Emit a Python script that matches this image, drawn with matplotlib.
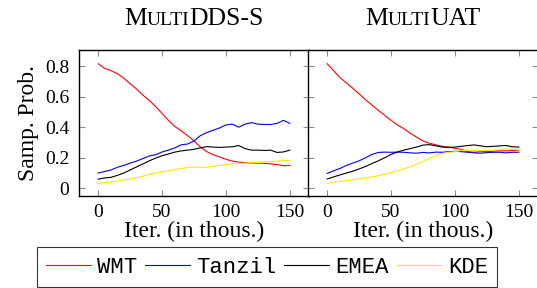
import numpy as np
import matplotlib
matplotlib.use("Agg")
import matplotlib.pyplot as plt
from matplotlib.lines import Line2D

# ---------------- data ----------------
iters = list(range(0, 155, 5))  # thousands of iterations
series_names = ["WMT", "Tanzil", "EMEA", "KDE"]
series_colors = ["#ff0000", "#0000ff", "#000000", "#ffe600"]

dds_wmt = [0.815, 0.785, 0.77, 0.75, 0.72, 0.685, 0.65, 0.61, 0.575, 0.535, 0.49,
           0.445, 0.405, 0.375, 0.345, 0.31, 0.27, 0.24, 0.22, 0.205, 0.19, 0.178,
           0.172, 0.168, 0.166, 0.165, 0.164, 0.16, 0.156, 0.148, 0.15]
dds_tanzil = [0.10, 0.11, 0.12, 0.138, 0.15, 0.165, 0.178, 0.195, 0.212, 0.22, 0.238,
              0.25, 0.265, 0.285, 0.29, 0.31, 0.345, 0.365, 0.38, 0.395, 0.415, 0.42,
              0.40, 0.42, 0.43, 0.42, 0.418, 0.418, 0.425, 0.445, 0.425]
dds_emea = [0.06, 0.068, 0.072, 0.085, 0.10, 0.12, 0.14, 0.16, 0.18, 0.198, 0.213,
            0.225, 0.237, 0.245, 0.25, 0.255, 0.265, 0.273, 0.27, 0.268, 0.27, 0.272,
            0.28, 0.26, 0.25, 0.25, 0.248, 0.25, 0.235, 0.238, 0.25]
dds_kde = [0.033, 0.037, 0.042, 0.048, 0.055, 0.062, 0.07, 0.08, 0.092, 0.10, 0.108,
           0.115, 0.122, 0.13, 0.137, 0.14, 0.136, 0.138, 0.145, 0.15, 0.155, 0.16,
           0.163, 0.165, 0.168, 0.17, 0.172, 0.175, 0.178, 0.185, 0.18]

uat_wmt = [0.815, 0.77, 0.725, 0.69, 0.655, 0.618, 0.58, 0.545, 0.51, 0.478, 0.445,
           0.415, 0.39, 0.36, 0.335, 0.31, 0.295, 0.285, 0.275, 0.27, 0.262, 0.255,
           0.24, 0.236, 0.24, 0.24, 0.243, 0.245, 0.245, 0.247, 0.247]
uat_tanzil = [0.098, 0.115, 0.13, 0.15, 0.165, 0.18, 0.20, 0.222, 0.235, 0.237, 0.236,
              0.237, 0.236, 0.232, 0.23, 0.235, 0.232, 0.237, 0.236, 0.24, 0.242, 0.24,
              0.236, 0.232, 0.23, 0.234, 0.236, 0.236, 0.232, 0.236, 0.236]
uat_emea = [0.061, 0.075, 0.088, 0.10, 0.112, 0.127, 0.143, 0.162, 0.18, 0.20, 0.222,
            0.238, 0.25, 0.26, 0.27, 0.283, 0.286, 0.278, 0.27, 0.268, 0.27, 0.275,
            0.28, 0.284, 0.278, 0.272, 0.275, 0.278, 0.28, 0.272, 0.27]
uat_kde = [0.033, 0.04, 0.045, 0.05, 0.057, 0.063, 0.068, 0.075, 0.083, 0.093, 0.103,
           0.115, 0.127, 0.142, 0.158, 0.177, 0.195, 0.213, 0.228, 0.236, 0.24, 0.248,
           0.25, 0.248, 0.247, 0.248, 0.25, 0.253, 0.258, 0.255, 0.25]

xticks = [0, 50, 100, 150]
xtick_labels = ["0", "50", "100", "150"]
yticks = [0, 0.2, 0.4, 0.6, 0.8]
ytick_labels = ["0", "0.2", "0.4", "0.6", "0.8"]
xlabel = "Iter. (in thous.)"
ylabel = "Samp. Prob."
titles = [[("M", 18.5), ("ULTI", 14), ("DDS-S", 18.5)],
          [("M", 18.5), ("ULTI", 14), ("UAT", 18.5)]]

# ---------------- figure ----------------
serif = "Liberation Serif"
plt.rcParams["font.family"] = [serif, "DejaVu Serif"]

W, H = 537, 288
fig = plt.figure(figsize=(W / 100, H / 100), dpi=100)

ax_w = 230 / W
ax_h = 146 / H
ax_b = (H - 196) / H
ax1 = fig.add_axes([79 / W, ax_b, ax_w, ax_h])
ax2 = fig.add_axes([308 / W, ax_b, ax_w, ax_h])

data = [[dds_wmt, dds_tanzil, dds_emea, dds_kde],
        [uat_wmt, uat_tanzil, uat_emea, uat_kde]]

for i, ax in enumerate([ax1, ax2]):
    for vals, col in zip(data[i], series_colors):
        ax.plot(iters, vals, color=col, lw=0.8)
    ax.set_xlim(-15, 165)
    ax.set_ylim(-0.05, 0.905)
    ax.set_xticks(xticks)
    ax.set_xticklabels(xtick_labels, fontfamily=serif)
    ax.set_yticks(yticks)
    ax.tick_params(direction="in", top=True, right=True, length=4.5, width=0.8,
                   color="#8c8c8c", labelsize=14)
    ax.tick_params(axis="x", pad=6)
    ax.tick_params(axis="y", pad=7)
    for sp in ax.spines.values():
        sp.set_linewidth(1.0)
    ax.set_xlabel(xlabel, fontsize=17, family=serif, labelpad=0)

ax1.set_yticklabels(ytick_labels, fontfamily=serif)
ax2.set_yticklabels([])
ax1.set_ylabel(ylabel, fontsize=17, family=serif, labelpad=4)

# small-caps titles
fig.canvas.draw()
renderer = fig.canvas.get_renderer()
for ax, parts in zip([ax1, ax2], titles):
    bb = ax.get_window_extent(renderer)
    cx = (bb.x0 + bb.x1) / 2
    texts = [fig.text(0, 0.913, s, fontsize=sz, family=serif, va="baseline", ha="left")
             for s, sz in parts]
    widths = [t.get_window_extent(renderer).width for t in texts]
    x = cx - sum(widths) / 2
    for t, w in zip(texts, widths):
        t.set_x(x / W)
        x += w

handles = [Line2D([], [], color=c, lw=0.8) for c in series_colors]
leg = fig.legend(handles, series_names, loc="lower center", ncol=4,
                 bbox_to_anchor=(267 / W, 0.003), frameon=True, fancybox=False,
                 prop={"family": "Liberation Mono", "size": 16},
                 handlelength=2.0, handletextpad=0.3, columnspacing=0.35,
                 borderpad=0.42, borderaxespad=0)
leg.get_frame().set_edgecolor("black")
leg.get_frame().set_linewidth(0.8)

fig.savefig("out.png", dpi=100)
